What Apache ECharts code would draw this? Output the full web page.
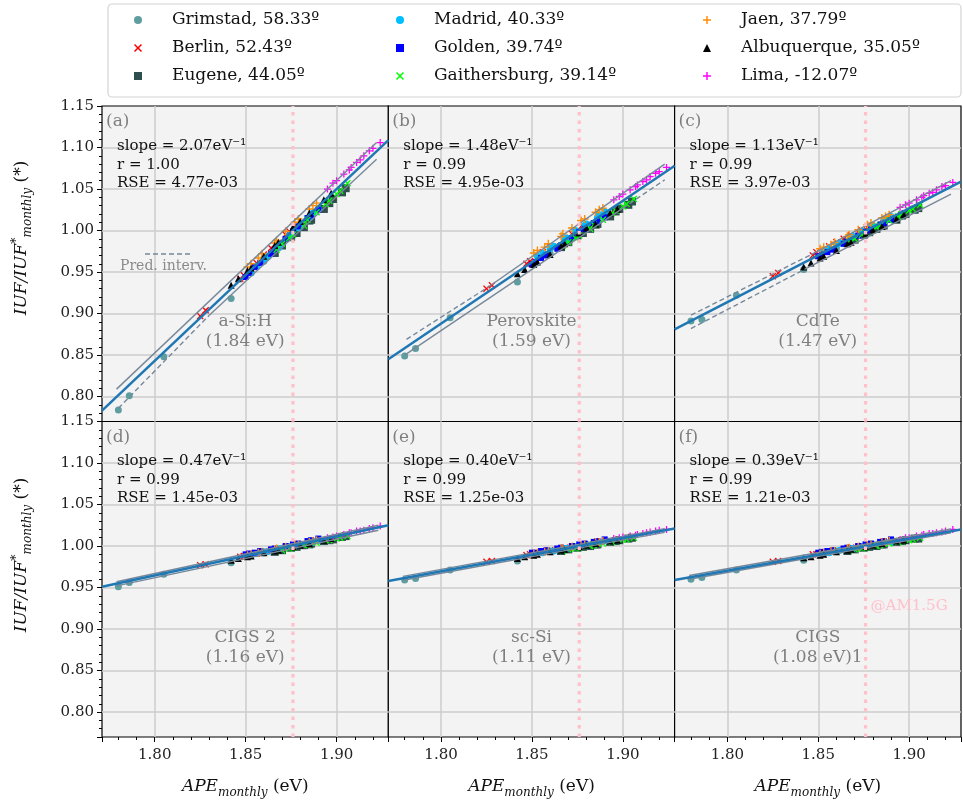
<!DOCTYPE html>
<html>
<head>
<meta charset="utf-8">
<title>IUF vs APE</title>
<script src="https://cdn.jsdelivr.net/npm/echarts@6.0.0/dist/echarts.min.js"></script>
<style>
html,body{margin:0;padding:0;background:#ffffff;}
#chart{width:963px;height:803px;}
</style>
</head>
<body>
<div id="chart"></div>
<script>
// ---------------- data ----------------
const cityNames = ['Grimstad, 58.33º','Berlin, 52.43º','Eugene, 44.05º','Madrid, 40.33º','Golden, 39.74º','Gaithersburg, 39.14º','Jaen, 37.79º','Albuquerque, 35.05º','Lima, -12.07º'];

// monthly APE (eV), Jan..Dec
const apeGrimstad     = [1.786, 1.842, 1.866, 1.874, 1.881, 1.884, 1.883, 1.878, 1.870, 1.860, 1.805, 1.780];
const apeBerlin       = [1.828, 1.849, 1.860, 1.868, 1.874, 1.878, 1.877, 1.872, 1.864, 1.856, 1.847, 1.825];
const apeEugene       = [1.870, 1.878, 1.882, 1.886, 1.893, 1.898, 1.905, 1.903, 1.896, 1.885, 1.875, 1.866];
const apeMadrid       = [1.856, 1.862, 1.868, 1.874, 1.880, 1.886, 1.890, 1.887, 1.879, 1.869, 1.860, 1.853];
const apeGolden       = [1.852, 1.858, 1.864, 1.872, 1.879, 1.886, 1.890, 1.884, 1.876, 1.866, 1.855, 1.850];
const apeGaithersburg = [1.870, 1.876, 1.882, 1.889, 1.896, 1.902, 1.906, 1.900, 1.894, 1.884, 1.874, 1.867];
const apeJaen         = [1.853, 1.859, 1.866, 1.872, 1.879, 1.885, 1.889, 1.887, 1.877, 1.867, 1.857, 1.851];
const apeAlbuquerque  = [1.846, 1.853, 1.860, 1.868, 1.876, 1.885, 1.897, 1.893, 1.880, 1.866, 1.851, 1.842];
const apeLima         = [1.915, 1.920, 1.924, 1.918, 1.908, 1.898, 1.895, 1.900, 1.904, 1.907, 1.911, 1.913];
const apeByCity = [apeGrimstad, apeBerlin, apeEugene, apeMadrid, apeGolden, apeGaithersburg, apeJaen, apeAlbuquerque, apeLima];

// IUF/IUF*monthly per panel, rows in cityNames order
const iufASiH = [
  [0.801, 0.918, 0.975, 0.992, 1.006, 1.013, 1.011, 1.000, 0.984, 0.963, 0.848, 0.784],
  [0.904, 0.946, 0.971, 0.985, 0.999, 1.005, 1.004, 0.995, 0.979, 0.961, 0.942, 0.897],
  [0.982, 0.997, 1.004, 1.013, 1.026, 1.038, 1.051, 1.046, 1.033, 1.012, 0.992, 0.973],
  [0.957, 0.968, 0.979, 0.994, 1.005, 1.017, 1.026, 1.021, 1.003, 0.982, 0.965, 0.949],
  [0.949, 0.961, 0.972, 0.990, 1.005, 1.018, 1.025, 1.015, 0.999, 0.977, 0.956, 0.944],
  [0.984, 0.995, 1.006, 1.022, 1.036, 1.048, 1.057, 1.044, 1.032, 1.013, 0.991, 0.977],
  [0.960, 0.972, 0.985, 0.999, 1.014, 1.026, 1.033, 1.030, 1.010, 0.988, 0.967, 0.956],
  [0.942, 0.955, 0.969, 0.986, 1.004, 1.021, 1.045, 1.037, 1.011, 0.982, 0.952, 0.934],
  [1.090, 1.099, 1.106, 1.096, 1.076, 1.057, 1.050, 1.060, 1.068, 1.073, 1.082, 1.085]
];
const iufPerovskite = [
  [0.858, 0.938, 0.981, 0.993, 1.003, 1.008, 1.006, 0.999, 0.987, 0.972, 0.895, 0.849],
  [0.934, 0.963, 0.980, 0.991, 0.999, 1.005, 1.005, 0.996, 0.980, 0.974, 0.960, 0.930],
  [0.986, 0.997, 1.002, 1.008, 1.017, 1.026, 1.035, 1.031, 1.023, 1.007, 0.994, 0.980],
  [0.973, 0.981, 0.989, 1.000, 1.008, 1.016, 1.023, 1.019, 1.006, 0.991, 0.978, 0.969],
  [0.962, 0.970, 0.978, 0.991, 1.002, 1.011, 1.016, 1.009, 0.998, 0.982, 0.967, 0.959],
  [0.986, 0.994, 1.002, 1.013, 1.024, 1.032, 1.038, 1.029, 1.021, 1.007, 0.991, 0.982],
  [0.976, 0.984, 0.993, 1.003, 1.014, 1.022, 1.027, 1.025, 1.012, 0.996, 0.980, 0.973],
  [0.953, 0.962, 0.971, 0.984, 0.997, 1.008, 1.026, 1.021, 1.003, 0.981, 0.959, 0.948],
  [1.065, 1.071, 1.076, 1.069, 1.055, 1.041, 1.037, 1.044, 1.049, 1.053, 1.059, 1.061]
];
const iufCdTe = [
  [0.893, 0.953, 0.986, 0.995, 1.003, 1.006, 1.005, 0.999, 0.990, 0.979, 0.922, 0.891],
  [0.949, 0.974, 0.986, 0.994, 1.000, 1.004, 1.004, 0.998, 0.990, 0.981, 0.970, 0.945],
  [0.989, 0.998, 1.002, 1.006, 1.013, 1.020, 1.027, 1.025, 1.018, 1.006, 0.995, 0.985],
  [0.979, 0.985, 0.992, 0.999, 1.006, 1.012, 1.017, 1.014, 1.004, 0.993, 0.983, 0.976],
  [0.971, 0.977, 0.984, 0.994, 1.001, 1.009, 1.013, 1.007, 0.998, 0.987, 0.974, 0.969],
  [0.990, 0.997, 1.004, 1.012, 1.020, 1.026, 1.031, 1.024, 1.017, 1.006, 0.995, 0.987],
  [0.980, 0.986, 0.993, 1.001, 1.009, 1.015, 1.019, 1.017, 1.007, 0.995, 0.983, 0.978],
  [0.961, 0.969, 0.976, 0.986, 0.996, 1.005, 1.019, 1.014, 1.001, 0.984, 0.967, 0.956],
  [1.049, 1.054, 1.058, 1.053, 1.042, 1.031, 1.028, 1.033, 1.037, 1.040, 1.045, 1.046]
];
const iufCIGS2 = [
  [0.956, 0.980, 0.994, 0.998, 1.001, 1.003, 1.002, 1.000, 0.996, 0.992, 0.966, 0.951],
  [0.978, 0.988, 0.993, 0.996, 0.999, 1.001, 1.001, 0.998, 0.995, 0.991, 0.987, 0.977],
  [0.995, 0.999, 1.001, 1.003, 1.006, 1.008, 1.012, 1.011, 1.007, 1.002, 0.998, 0.993],
  [0.991, 0.993, 0.996, 0.999, 1.002, 1.005, 1.007, 1.005, 1.001, 0.997, 0.993, 0.989],
  [0.991, 0.994, 0.996, 1.000, 1.003, 1.007, 1.009, 1.006, 1.002, 0.997, 0.992, 0.990],
  [0.995, 0.998, 1.001, 1.004, 1.007, 1.010, 1.012, 1.009, 1.007, 1.002, 0.997, 0.994],
  [0.990, 0.993, 0.996, 0.999, 1.002, 1.005, 1.007, 1.006, 1.002, 0.997, 0.992, 0.989],
  [0.985, 0.988, 0.992, 0.995, 0.999, 1.003, 1.009, 1.007, 1.001, 0.994, 0.987, 0.983],
  [1.019, 1.022, 1.024, 1.021, 1.016, 1.011, 1.010, 1.012, 1.014, 1.016, 1.018, 1.018]
];
const iufScSi = [
  [0.961, 0.982, 0.995, 0.998, 1.001, 1.002, 1.002, 1.000, 0.997, 0.993, 0.971, 0.959],
  [0.982, 0.990, 0.995, 0.998, 1.000, 1.001, 1.001, 0.999, 0.996, 0.993, 0.989, 0.981],
  [0.996, 0.999, 1.000, 1.002, 1.005, 1.007, 1.010, 1.009, 1.006, 1.002, 0.998, 0.994],
  [0.992, 0.994, 0.997, 0.999, 1.002, 1.004, 1.006, 1.004, 1.001, 0.997, 0.994, 0.991],
  [0.992, 0.995, 0.997, 1.000, 1.003, 1.006, 1.008, 1.005, 1.002, 0.998, 0.994, 0.992],
  [0.996, 0.998, 1.000, 1.003, 1.006, 1.008, 1.010, 1.008, 1.005, 1.001, 0.997, 0.994],
  [0.992, 0.994, 0.997, 0.999, 1.002, 1.005, 1.006, 1.005, 1.001, 0.997, 0.993, 0.991],
  [0.987, 0.990, 0.993, 0.996, 0.999, 1.003, 1.007, 1.006, 1.001, 0.995, 0.989, 0.985],
  [1.017, 1.019, 1.020, 1.018, 1.014, 1.010, 1.009, 1.011, 1.012, 1.013, 1.015, 1.016]
];
const iufCIGS = [
  [0.962, 0.983, 0.995, 0.998, 1.001, 1.002, 1.002, 1.000, 0.997, 0.993, 0.971, 0.960],
  [0.982, 0.990, 0.995, 0.998, 1.000, 1.001, 1.001, 0.999, 0.996, 0.993, 0.990, 0.981],
  [0.996, 0.999, 1.000, 1.002, 1.005, 1.007, 1.009, 1.009, 1.006, 1.002, 0.998, 0.994],
  [0.992, 0.995, 0.997, 0.999, 1.002, 1.004, 1.005, 1.004, 1.001, 0.997, 0.994, 0.991],
  [0.993, 0.995, 0.997, 1.000, 1.003, 1.006, 1.008, 1.005, 1.002, 0.998, 0.994, 0.992],
  [0.996, 0.998, 1.000, 1.003, 1.006, 1.008, 1.010, 1.007, 1.005, 1.001, 0.997, 0.995],
  [0.992, 0.994, 0.997, 0.999, 1.002, 1.005, 1.006, 1.005, 1.001, 0.998, 0.994, 0.991],
  [0.987, 0.990, 0.993, 0.996, 0.999, 1.003, 1.007, 1.006, 1.001, 0.995, 0.989, 0.986],
  [1.016, 1.018, 1.020, 1.017, 1.014, 1.010, 1.008, 1.010, 1.012, 1.013, 1.015, 1.015]
];
const iufByPanel = [iufASiH, iufPerovskite, iufCdTe, iufCIGS2, iufScSi, iufCIGS];

// panel texts
const panelLetters = ['(a)','(b)','(c)','(d)','(e)','(f)'];
const materials    = ['a-Si:H','Perovskite','CdTe','CIGS 2','sc-Si','CIGS'];
const bandgaps     = ['(1.84 eV)','(1.59 eV)','(1.47 eV)','(1.16 eV)','(1.11 eV)','(1.08 eV)1'];
const slopeTexts   = ['2.07','1.48','1.13','0.47','0.40','0.39'];
const rTexts       = ['1.00','0.99','0.99','0.99','0.99','0.99'];
const rseTexts     = ['4.77e-03','4.95e-03','3.97e-03','1.45e-03','1.25e-03','1.21e-03'];

// fit line values at the axis ends (x = 1.771 and x = 1.9285)
const fitAtLeft  = [0.783, 0.845, 0.881, 0.951, 0.958, 0.959];
const fitAtRight = [1.109, 1.078, 1.059, 1.025, 1.021, 1.020];

// interval lines [[x,y],[x,y]] per panel (null = none)
const bandUpperSolid  = [[[1.779,0.809],[1.922,1.106]], [[1.826,0.932],[1.923,1.080]], [[1.846,0.971],[1.923,1.060]],
                         [[1.779,0.957],[1.923,1.025]], [[1.779,0.9635],[1.923,1.021]], [[1.779,0.9645],[1.923,1.0206]]];
const bandLowerSolid  = [[[1.830,0.898],[1.922,1.086]], [[1.780,0.850],[1.900,1.027]], [[1.844,0.955],[1.923,1.044]],
                         [[1.779,0.952],[1.923,1.019]], [[1.779,0.9588],[1.923,1.0165]], [[1.779,0.960],[1.923,1.016]]];
const bandUpperDashed = [null, [[1.781,0.869],[1.826,0.932]], [[1.780,0.898],[1.846,0.971]], null, null, null];
const bandLowerDashed = [[[1.780,0.786],[1.830,0.898]], [[1.900,1.027],[1.923,1.061]], [[1.780,0.882],[1.844,0.955]], null, null, null];

const AM15G_APE = 1.876;

// ---------------- styles / layout ----------------
const FONT = 'DejaVu Serif';
const X_MIN = 1.771, X_MAX = 1.9285, Y_MIN = 0.77, Y_MAX = 1.15;
const LEFTS = [102, 388.3, 674.6], W = 286.4, TOPS = [106, 421.5], H = 315.5;
const X_PATH = 'path://M1.3,0L5,3.7L8.7,0L10,1.3L6.3,5L10,8.7L8.7,10L5,6.3L1.3,10L0,8.7L3.7,5L0,1.3Z';
const P_PATH = 'path://M4.1,0H5.9V4.1H10V5.9H5.9V10H4.1V5.9H0V4.1H4.1Z';
const citySymbols = ['circle', X_PATH, 'rect', 'circle', 'rect', X_PATH, P_PATH, 'triangle', P_PATH];
const cityColors  = ['#5f9ea0', '#ff0000', '#2f4f4f', '#00bfff', '#0000ff', '#00ff00', '#ff8c00', '#000000', '#ff00ff'];
const citySizes   = [7, 7, 8, 7, 6, 7, 8, 7, 7];
const BAND_COLOR = '#778899';

const isMajor = v => Math.abs(v * 20 - Math.round(v * 20)) < 1e-6;

const grid = [], xAxis = [], yAxis = [], series = [], graphic = [];

function txt(x, y, text, extra) {
  return { type: 'text', x: x, y: y, silent: true, z: 50,
    style: Object.assign({ text: text, fontFamily: FONT, fontSize: 15, fill: '#111', align: 'left', verticalAlign: 'middle' }, extra || {}) };
}
function lineSeries(p, data, color, width, dash, z) {
  return { type: 'line', xAxisIndex: p, yAxisIndex: p, data: data, symbol: 'none', silent: true, z: z,
    lineStyle: { color: color, width: width, type: dash || 'solid', cap: 'butt' }, animation: false };
}

for (let p = 0; p < 6; p++) {
  const col = p % 3, row = Math.floor(p / 3);
  const L = LEFTS[col], T = TOPS[row];
  const bottom = row === 1, first = col === 0;

  grid.push({ left: L, top: T, width: W, height: H, show: true, backgroundColor: '#f3f3f3',
    borderColor: '#000', borderWidth: 1.2, containLabel: false, outerBoundsMode: 'none' });

  xAxis.push({ type: 'value', gridIndex: p, min: X_MIN, max: X_MAX, splitNumber: 3,
    axisLine: { show: false },
    axisTick: { show: bottom, length: 5, lineStyle: { color: '#000', width: 1 } },
    minorTick: { show: bottom, splitNumber: 5, length: 3, lineStyle: { color: '#000', width: 1 } },
    axisLabel: { show: bottom, margin: 11, formatter: v => isMajor(v) ? v.toFixed(2) : '',
      fontFamily: FONT, fontSize: 15, color: '#222' },
    splitLine: { show: true, showMinLine: false, showMaxLine: false, lineStyle: { color: '#cccccc', width: 1.5 } },
    minorSplitLine: { show: false } });

  yAxis.push({ type: 'value', gridIndex: p, min: Y_MIN, max: Y_MAX, splitNumber: 8,
    axisLine: { show: false },
    axisTick: { show: first, length: 5, lineStyle: { color: '#000', width: 1 } },
    minorTick: { show: first, splitNumber: 5, length: 3, lineStyle: { color: '#000', width: 1 } },
    axisLabel: { show: first, margin: 8, formatter: v => isMajor(v) ? v.toFixed(2) : '',
      fontFamily: FONT, fontSize: 15, color: '#222' },
    splitLine: { show: true, showMinLine: false, showMaxLine: false, lineStyle: { color: '#cccccc', width: 1.5 } },
    minorSplitLine: { show: false } });

  // scatter points
  for (let c = 0; c < cityNames.length; c++) {
    const ys = iufByPanel[p][c];
    series.push({ type: 'scatter', name: cityNames[c], xAxisIndex: p, yAxisIndex: p,
      data: apeByCity[c].map((x, m) => [x, ys[m]]),
      symbol: citySymbols[c], symbolSize: citySizes[c],
      itemStyle: { color: cityColors[c], opacity: 1 }, z: 2, silent: true, animation: false });
  }
  // interval lines
  if (bandUpperSolid[p]) series.push(lineSeries(p, bandUpperSolid[p], BAND_COLOR, 1.4, 'solid', 3));
  if (bandLowerSolid[p]) series.push(lineSeries(p, bandLowerSolid[p], BAND_COLOR, 1.4, 'solid', 3));
  if (bandUpperDashed[p]) series.push(lineSeries(p, bandUpperDashed[p], BAND_COLOR, 1.4, [5, 3], 3));
  if (bandLowerDashed[p]) series.push(lineSeries(p, bandLowerDashed[p], BAND_COLOR, 1.4, [5, 3], 3));
  // fit line
  series.push(lineSeries(p, [[X_MIN, fitAtLeft[p]], [X_MAX, fitAtRight[p]]], '#1f77b4', 2.5, 'solid', 4));
  // AM1.5G reference
  series.push(lineSeries(p, [[AM15G_APE, Y_MIN], [AM15G_APE, Y_MAX]], '#ffc0cb', 3.2, [3.5, 5], 5));

  // panel texts
  graphic.push(txt(L + 4, T + 16, panelLetters[p], { fontSize: 17, fill: '#7f7f7f' }));
  graphic.push(txt(L + 15, T + 40, 'slope = ' + slopeTexts[p] + 'eV\u207B\u00B9'));
  graphic.push(txt(L + 15, T + 59, 'r = ' + rTexts[p]));
  graphic.push(txt(L + 15, T + 77, 'RSE = ' + rseTexts[p]));
  graphic.push(txt(L + W / 2, T + 216, materials[p], { fontSize: 17, fill: '#7f7f7f', align: 'center' }));
  graphic.push(txt(L + W / 2, T + 236, bandgaps[p], { fontSize: 17, fill: '#7f7f7f', align: 'center' }));

  if (bottom) {
    graphic.push({ type: 'text', x: L + W / 2, y: 787, silent: true, z: 50,
      style: { text: '{i|APE}{s|monthly}{n| (eV)}', align: 'center', verticalAlign: 'middle',
        rich: {
          i: { fontFamily: FONT, fontStyle: 'italic', fontSize: 17, fill: '#111', lineHeight: 24, verticalAlign: 'middle' },
          s: { fontFamily: FONT, fontStyle: 'italic', fontSize: 12, fill: '#111', lineHeight: 12, verticalAlign: 'bottom' },
          n: { fontFamily: FONT, fontSize: 17, fill: '#111', lineHeight: 24, verticalAlign: 'middle' }
        } } });
  }
  if (first) {
    graphic.push({ type: 'text', x: 22, y: row === 0 ? 238 : 555, rotation: Math.PI / 2, silent: true, z: 50,
      style: { text: '{i|IUF/IUF}{p|*}{s|monthly}{n| (*)}', align: 'center', verticalAlign: 'middle',
        rich: {
          i: { fontFamily: FONT, fontStyle: 'italic', fontSize: 17, fill: '#111', lineHeight: 24, verticalAlign: 'middle' },
          p: { fontFamily: FONT, fontStyle: 'italic', fontSize: 13, fill: '#111', lineHeight: 12, verticalAlign: 'top' },
          s: { fontFamily: FONT, fontStyle: 'italic', fontSize: 12, fill: '#111', lineHeight: 12, verticalAlign: 'bottom' },
          n: { fontFamily: FONT, fontSize: 17, fill: '#111', lineHeight: 24, verticalAlign: 'middle' }
        } } });
  }
}

// "Pred. interv." key inside panel (a)
graphic.push({ type: 'line', silent: true, z: 50,
  shape: { x1: LEFTS[0] + 43, y1: TOPS[0] + 148, x2: LEFTS[0] + 90, y2: TOPS[0] + 148 },
  style: { stroke: BAND_COLOR, lineWidth: 1.4, lineDash: [5, 3] } });
graphic.push(txt(LEFTS[0] + 18, TOPS[0] + 160, 'Pred. interv.', { fontSize: 14, fill: '#8a8a8a' }));
// AM1.5G note in panel (f)
graphic.push(txt(LEFTS[2] + 196, TOPS[1] + 185, '@AM1.5G', { fontSize: 15, fill: '#ffc0cb' }));
// legend frame
graphic.push({ type: 'rect', silent: true, z: 0,
  shape: { x: 108, y: 4, width: 853, height: 93, r: 4 },
  style: { fill: '#ffffff', stroke: '#d4d4d4', lineWidth: 1.2 } });

// legend: small square icon box, text pushed right with padding
const legendLefts = [134, 396, 703];
const legend = legendLefts.map((lx, k) => ({
  orient: 'vertical', left: lx, top: 11, padding: 0, itemWidth: 8, itemHeight: 8, itemGap: 10,
  selectedMode: false, z: 10, symbolKeepAspect: true,
  data: cityNames.slice(k * 3, k * 3 + 3),
  textStyle: { fontFamily: FONT, fontSize: 17, color: '#111', lineHeight: 18, padding: [0, 0, 0, 25] }
}));

const chart = echarts.init(document.getElementById('chart'), null, { renderer: 'canvas' });
chart.setOption({
  animation: false,
  backgroundColor: '#ffffff',
  grid: grid, xAxis: xAxis, yAxis: yAxis,
  legend: legend,
  series: series,
  graphic: graphic
});
</script>
</body>
</html>
